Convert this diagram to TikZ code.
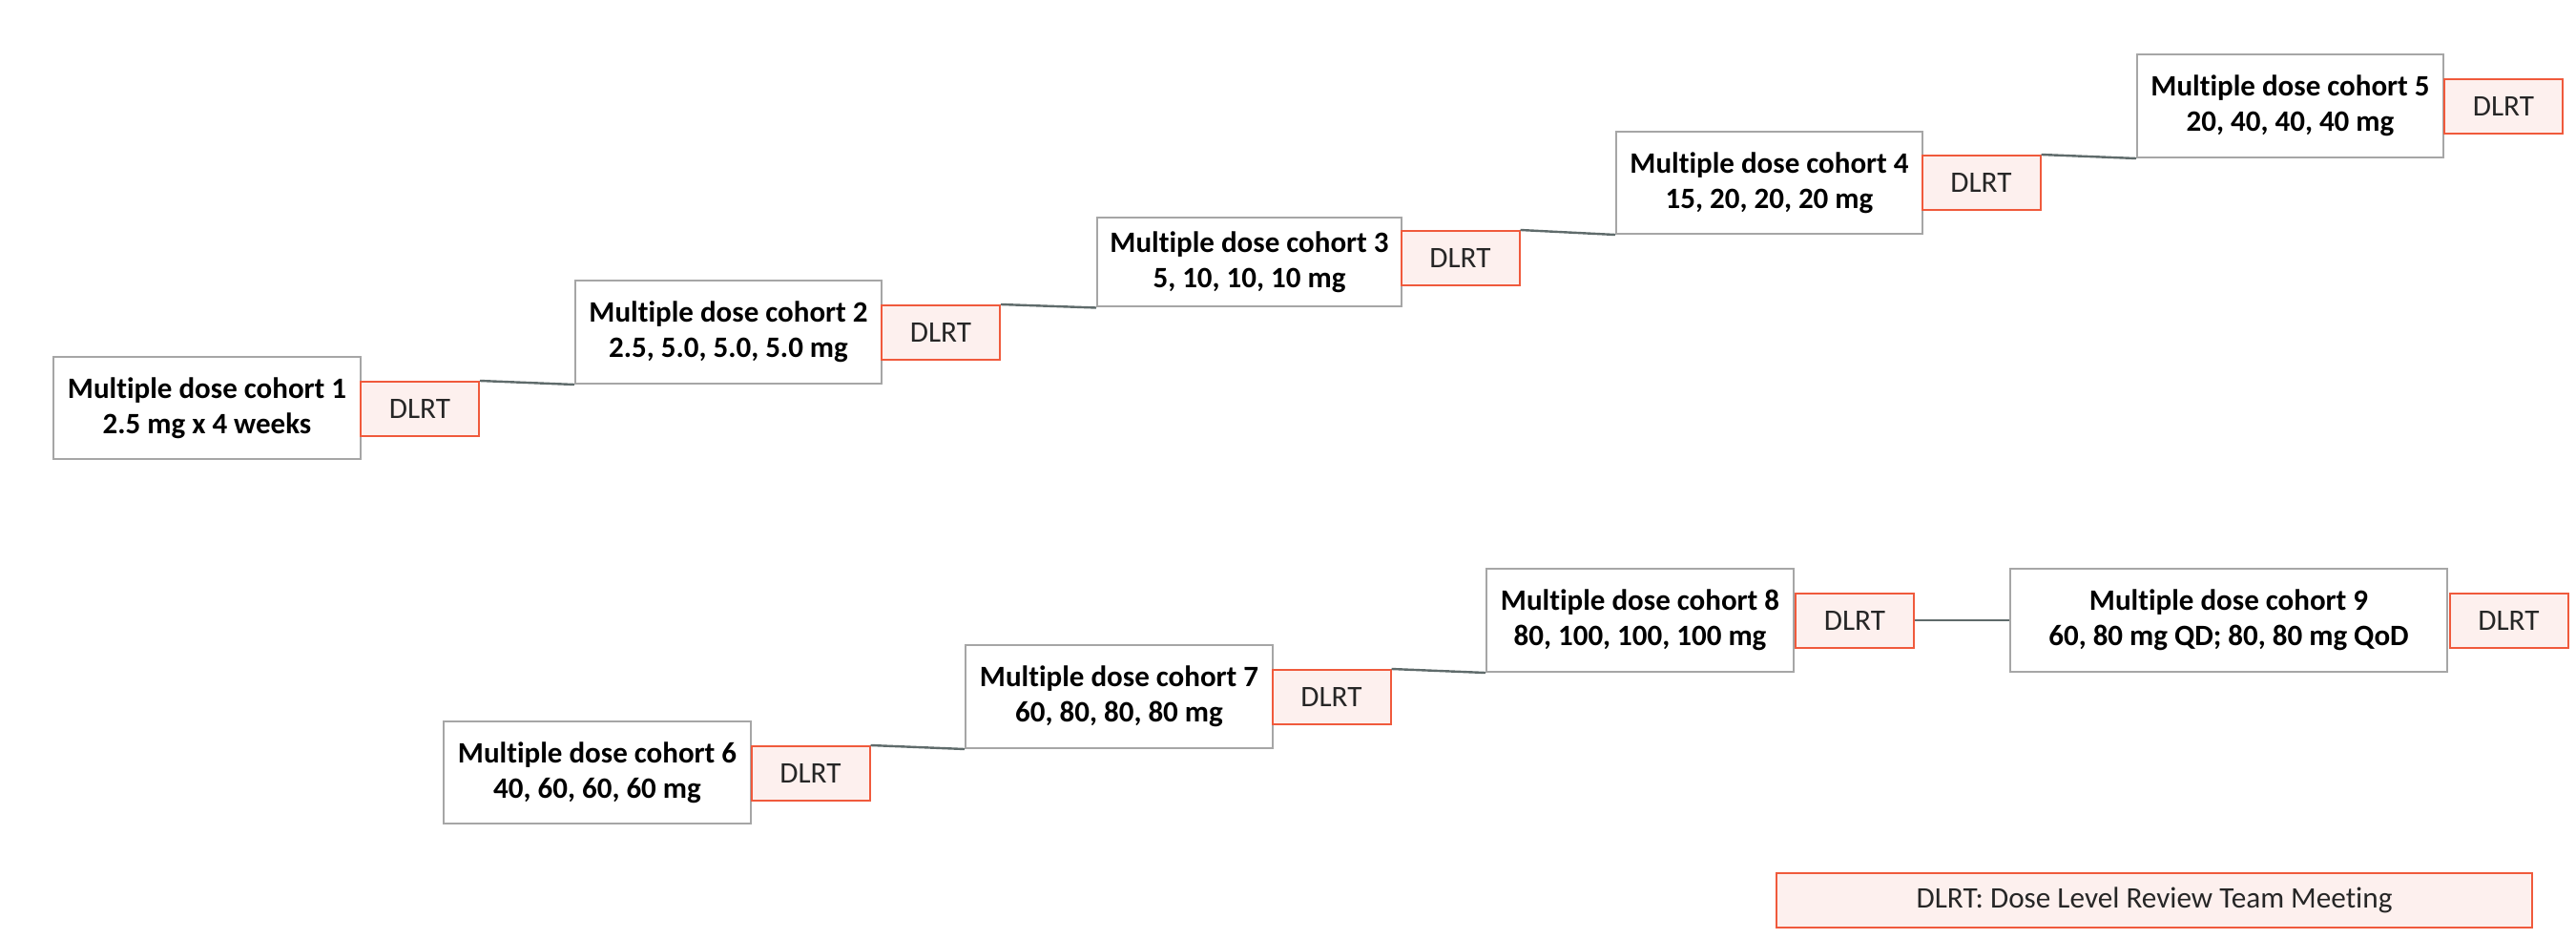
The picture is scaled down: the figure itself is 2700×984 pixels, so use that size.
\documentclass[tikz,border=0pt]{standalone}
\usepackage{fontspec}
\setmainfont{Carlito}[Ligatures=NoCommon]
\begin{document}
\begin{tikzpicture}[x=0.5pt,y=-0.5pt,
  cohort/.style={draw=boxgray, line width=1pt, fill=white, align=center, inner sep=0pt,
    font=\bfseries\fontsize{15.5}{18.5}\selectfont, text=black},
  dlrt/.style={draw=dlrtred, line width=1pt, fill=dlrtfill, inner sep=0pt,
    font=\fontsize{15.6}{18}\selectfont, text=dlrttext, minimum width=62pt, minimum height=28.5pt},
  link/.style={draw=linkgray, line width=1.2pt}]
\definecolor{boxgray}{HTML}{A6A6A6}
\definecolor{dlrtred}{HTML}{F05A3C}
\definecolor{dlrtfill}{HTML}{FDF0EE}
\definecolor{dlrttext}{HTML}{262626}
\definecolor{linkgray}{HTML}{5F6B6B}
\useasboundingbox (0,0) rectangle (2700,984);
% cohort boxes
\node[cohort, minimum width=161pt, minimum height=53.5pt] (c1) at (217,427.5) {Multiple dose cohort 1\\2.5 mg x 4 weeks};
\node[cohort, minimum width=160.5pt, minimum height=54pt] (c2) at (763.5,348) {Multiple dose cohort 2\\2.5, 5.0, 5.0, 5.0 mg};
\node[cohort, minimum width=159.5pt, minimum height=46.5pt] (c3) at (1309.5,275) {Multiple dose cohort 3\\5, 10, 10, 10 mg};
\node[cohort, minimum width=160.5pt, minimum height=53.5pt] (c4) at (1854.5,191.5) {Multiple dose cohort 4\\15, 20, 20, 20 mg};
\node[cohort, minimum width=160.5pt, minimum height=54pt] (c5) at (2400.5,111) {Multiple dose cohort 5\\20, 40, 40, 40 mg};
\node[cohort, minimum width=161pt, minimum height=53.5pt] (c6) at (626,809.5) {Multiple dose cohort 6\\40, 60, 60, 60 mg};
\node[cohort, minimum width=161pt, minimum height=54pt] (c7) at (1173,730) {Multiple dose cohort 7\\60, 80, 80, 80 mg};
\node[cohort, minimum width=161pt, minimum height=54pt] (c8) at (1719,650) {Multiple dose cohort 8\\80, 100, 100, 100 mg};
\node[cohort, minimum width=229pt, minimum height=54pt] (c9) at (2336,650) {Multiple dose cohort 9\\60, 80 mg QD; 80, 80 mg QoD};
% DLRT boxes
\node[dlrt] (d1) at (440,428.5) {DLRT};
\node[dlrt] (d2) at (986,348.5) {DLRT};
\node[dlrt] (d3) at (1530.5,270.5) {DLRT};
\node[dlrt] (d4) at (2076.5,191.5) {DLRT};
\node[dlrt] (d5) at (2624,111.5) {DLRT};
\node[dlrt] (d6) at (849.5,810.5) {DLRT};
\node[dlrt] (d7) at (1395.5,730.5) {DLRT};
\node[dlrt] (d8) at (1944,650) {DLRT};
\node[dlrt] (d9) at (2629.5,650) {DLRT};
% legend
\node[dlrt, minimum width=396pt] (legend) at (2258,943.5) {DLRT: Dose Level Review Team Meeting};
% connectors
\draw[link] (d1.north east) -- (c2.south west);
\draw[link] (d2.north east) -- (c3.south west);
\draw[link] (d3.north east) -- (c4.south west);
\draw[link] (d4.north east) -- (c5.south west);
\draw[link] (d6.north east) -- (c7.south west);
\draw[link] (d7.north east) -- (c8.south west);
\draw[link] (d8.east) -- (c9.west);
\end{tikzpicture}
\end{document}
